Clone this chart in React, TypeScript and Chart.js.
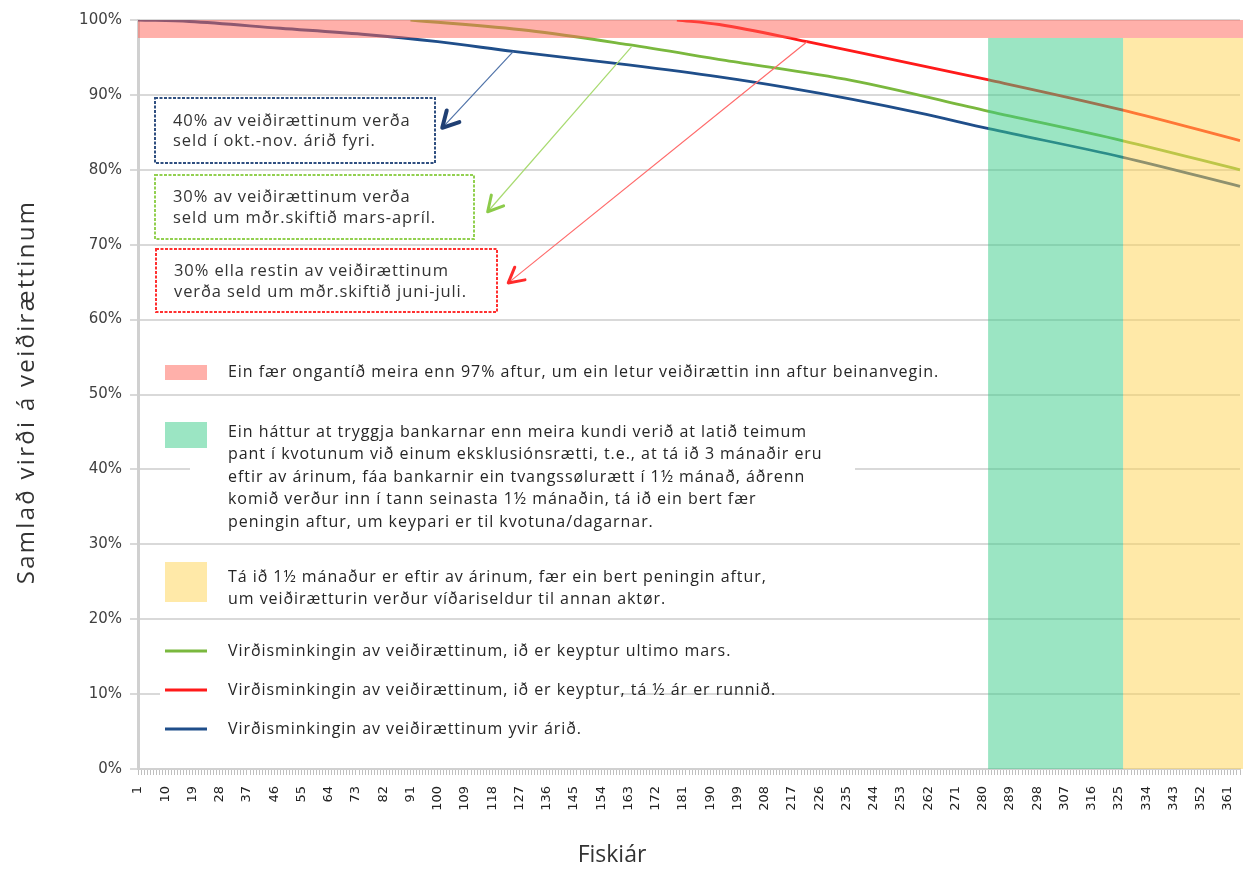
import { useEffect, useRef } from 'react';
import { Chart, registerables } from 'chart.js';

Chart.register(...registerables);

// ---------- data ----------
const DAYS: string[] = Array.from({ length: 365 }, (_, i) => String(i + 1));
const Y_TICKS_STEP = 10;

const BLUE_DAYS = [1, 18, 48, 75, 100, 125, 163, 193, 215, 237, 259, 282, 326, 365];
const BLUE_VALUES = [100, 99.8, 98.9, 98.1, 97.1, 95.8, 94.0, 92.4, 91.0, 89.4, 87.6, 85.5, 81.7, 77.8];

const GREEN_DAYS = [91, 130, 163, 195, 237, 282, 326, 365];
const GREEN_VALUES = [100, 98.6, 96.7, 94.6, 91.9, 87.8, 83.9, 80.0];

const RED_DAYS = [179, 193, 222, 248, 282, 326, 365];
const RED_VALUES = [100, 99.4, 97.1, 94.9, 92.0, 88.0, 83.9];

// band limits (days / percent)
const CAP_VALUE = 97.6;
const GREEN_BAND_DAYS = [281.8, 326.4];
const YELLOW_BAND_DAYS = [326.4, 365];

// annotation arrows: [fromDay, fromValue, toDay, toValue]
const ARROW_BLUE = [125, 95.8, 101.5, 85.6];
const ARROW_GREEN = [164, 96.4, 116.5, 74.4];
const ARROW_RED = [222, 97.1, 123.3, 64.9];

// texts
const SERIES_LABELS = [
  'Virðisminkingin av veiðirættinum, ið er keyptur ultimo mars.',
  'Virðisminkingin av veiðirættinum, ið er keyptur, tá ½ ár er runnið.',
  'Virðisminkingin av veiðirættinum yvir árið.',
];
const PINK_TEXT = ['Ein fær ongantíð meira enn 97% aftur, um ein letur veiðirættin inn aftur beinanvegin.'];
const GREEN_TEXT = [
  'Ein háttur at tryggja bankarnar enn meira kundi verið at latið teimum',
  'pant í kvotunum við einum eksklusiónsrætti, t.e., at tá ið 3 mánaðir eru',
  'eftir av árinum, fáa bankarnir ein tvangssølurætt í 1½ mánað, áðrenn',
  'komið verður inn í tann seinasta 1½ mánaðin, tá ið ein bert fær',
  'peningin aftur, um keypari er til kvotuna/dagarnar.',
];
const YELLOW_TEXT = [
  'Tá ið 1½ mánaður er eftir av árinum, fær ein bert peningin aftur,',
  'um veiðirætturin verður víðariseldur til annan aktør.',
];
const BOX_BLUE_TEXT = ['40% av veiðirættinum verða', 'seld í okt.-nov. árið fyri.'];
const BOX_GREEN_TEXT = ['30% av veiðirættinum verða', 'seld um mðr.skiftið mars-apríl.'];
const BOX_RED_TEXT = ['30% ella restin av veiðirættinum', 'verða seld um mðr.skiftið juni-juli.'];
const Y_TITLE = 'Samlað virði á veiðirættinum';
const X_TITLE = 'Fiskiár';

// ---------- styles ----------
const BLUE = '#1F4E8A';
const GREEN = '#7AB83E';
const RED = '#FF1A1A';
const PINK_FILL = 'rgba(255,97,85,0.5)';
const GREEN_FILL = 'rgba(55,203,135,0.5)';
const YELLOW_FILL = 'rgba(255,211,81,0.5)';
const PINK_SOLID = 'rgb(255,176,170)';
const GREEN_SOLID = 'rgb(155,229,195)';
const YELLOW_SOLID = 'rgb(255,233,168)';
const FONT = '"Open Sans", "DejaVu Sans", sans-serif';
const TEXT_COLOR = '#262626';

function toPoints(days: number[], values: number[]) {
  return days.map((d, i) => ({ x: String(d), y: values[i] }));
}

function drawArrow(ctx: CanvasRenderingContext2D, x0: number, y0: number, x1: number, y1: number, lineColor: string, headColor: string, headLen: number, headWidth: number) {
  ctx.save();
  ctx.strokeStyle = lineColor;
  ctx.lineWidth = 1.2;
  ctx.beginPath();
  ctx.moveTo(x0, y0);
  ctx.lineTo(x1, y1);
  ctx.stroke();
  const ang = Math.atan2(y1 - y0, x1 - x0);
  const spread = 0.5;
  ctx.strokeStyle = headColor;
  ctx.lineWidth = headWidth;
  ctx.lineCap = 'round';
  ctx.lineJoin = 'round';
  ctx.beginPath();
  ctx.moveTo(x1 - headLen * Math.cos(ang - spread), y1 - headLen * Math.sin(ang - spread));
  ctx.lineTo(x1, y1);
  ctx.lineTo(x1 - headLen * Math.cos(ang + spread), y1 - headLen * Math.sin(ang + spread));
  ctx.stroke();
  ctx.restore();
}

function setSpacing(ctx: CanvasRenderingContext2D, px: number) {
  (ctx as any).letterSpacing = `${px}px`;
}

function dottedBox(ctx: CanvasRenderingContext2D, x0: number, y0: number, x1: number, y1: number, color: string, lines: string[], textY: number[]) {
  ctx.save();
  ctx.fillStyle = '#ffffff';
  ctx.fillRect(x0, y0, x1 - x0, y1 - y0);
  ctx.strokeStyle = color;
  ctx.lineWidth = 2;
  ctx.setLineDash([3, 1.5]);
  ctx.strokeRect(x0, y0, x1 - x0, y1 - y0);
  ctx.setLineDash([]);
  ctx.fillStyle = '#333333';
  ctx.font = `16.5px ${FONT}`;
  setSpacing(ctx, 0.9);
  ctx.textBaseline = 'middle';
  ctx.textAlign = 'left';
  lines.forEach((t, i) => ctx.fillText(t, x0 + 18, textY[i]));
  ctx.restore();
}

const overlayPlugin = {
  id: 'overlay',
  afterDatasetsDraw(chart: any) {
    const { ctx, chartArea, scales } = chart;
    const x = scales.x;
    const y = scales.y;
    const yTop = y.getPixelForValue(100);
    const yCap = y.getPixelForValue(CAP_VALUE);
    const yBot = y.getPixelForValue(0);
    ctx.save();
    ctx.fillStyle = PINK_FILL;
    ctx.fillRect(chartArea.left, yTop, chart.width - chartArea.left, yCap - yTop);
    const g0 = x.getPixelForValue(GREEN_BAND_DAYS[0] - 1);
    const g1 = x.getPixelForValue(GREEN_BAND_DAYS[1] - 1);
    ctx.fillStyle = GREEN_FILL;
    ctx.fillRect(g0, yCap, g1 - g0, yBot - yCap);
    const y0 = x.getPixelForValue(YELLOW_BAND_DAYS[0] - 1);
    ctx.fillStyle = YELLOW_FILL;
    ctx.fillRect(y0, yCap, chart.width - y0, yBot - yCap);
    ctx.restore();
  },
  afterDraw(chart: any) {
    const { ctx, scales } = chart;
    const x = scales.x;
    const y = scales.y;
    const px = (d: number) => x.getPixelForValue(d - 1);
    const py = (v: number) => y.getPixelForValue(v);

    // arrows
    drawArrow(ctx, px(ARROW_BLUE[0]), py(ARROW_BLUE[1]), px(ARROW_BLUE[2]), py(ARROW_BLUE[3]), '#4F72A8', '#1F3F73', 18, 4);
    drawArrow(ctx, px(ARROW_GREEN[0]), py(ARROW_GREEN[1]), px(ARROW_GREEN[2]), py(ARROW_GREEN[3]), '#A8DA70', '#8CCB4A', 17, 3);
    drawArrow(ctx, px(ARROW_RED[0]), py(ARROW_RED[1]), px(ARROW_RED[2]), py(ARROW_RED[3]), '#FF6A6A', '#FF2A2A', 17, 3);

    // annotation boxes
    dottedBox(ctx, 155, 98, 435, 163, '#2F4F80', BOX_BLUE_TEXT, [121, 141]);
    dottedBox(ctx, 155, 175, 474, 239, '#92D050', BOX_GREEN_TEXT, [197, 218]);
    dottedBox(ctx, 156, 249, 497, 312, '#FF3030', BOX_RED_TEXT, [271, 292]);

    // legend
    ctx.save();
    ctx.font = `16px ${FONT}`;
    setSpacing(ctx, 0.95);
    ctx.textBaseline = 'middle';
    ctx.textAlign = 'left';
    const TX = 228;
    const MX = 165;
    const MW = 42;
    // white backgrounds hiding grid
    ctx.fillStyle = '#ffffff';
    ctx.fillRect(190, 418, 665, 114);
    ctx.fillRect(160, 678, 460, 25);

    ctx.fillStyle = PINK_SOLID;
    ctx.fillRect(MX, 365, MW, 15);
    ctx.fillStyle = GREEN_SOLID;
    ctx.fillRect(MX, 422, MW, 26);
    ctx.fillStyle = YELLOW_SOLID;
    ctx.fillRect(MX, 562, MW, 40);

    ctx.fillStyle = TEXT_COLOR;
    PINK_TEXT.forEach((t, i) => ctx.fillText(t, TX, 372 + i * 22.5));
    GREEN_TEXT.forEach((t, i) => ctx.fillText(t, TX, 432 + i * 22.5));
    YELLOW_TEXT.forEach((t, i) => ctx.fillText(t, TX, 577 + i * 22.5));

    const lineColors = [GREEN, RED, BLUE];
    const lineY = [651, 690, 729];
    lineColors.forEach((c, i) => {
      ctx.strokeStyle = c;
      ctx.lineWidth = 3;
      ctx.beginPath();
      ctx.moveTo(MX, lineY[i]);
      ctx.lineTo(MX + MW, lineY[i]);
      ctx.stroke();
      ctx.fillStyle = TEXT_COLOR;
      ctx.fillText(SERIES_LABELS[i], TX, lineY[i]);
    });
    ctx.restore();

    // axis titles
    ctx.save();
    ctx.fillStyle = '#333333';
    ctx.font = `23px ${FONT}`;
    ctx.textAlign = 'center';
    ctx.textBaseline = 'middle';
    ctx.fillText(X_TITLE, 612, 855);
    ctx.font = `24px ${FONT}`;
    setSpacing(ctx, 2.3);
    ctx.translate(27, 392);
    ctx.rotate(-Math.PI / 2);
    ctx.fillText(Y_TITLE, 0, 0);
    ctx.restore();
  },
};

export default function App() {
  const ref = useRef<HTMLCanvasElement | null>(null);
  useEffect(() => {
    if (!ref.current) return;
    const chart = new Chart(ref.current, {
      type: 'line',
      data: {
        labels: DAYS,
        datasets: [
          { label: SERIES_LABELS[0], data: toPoints(GREEN_DAYS, GREEN_VALUES) as any, borderColor: GREEN, borderWidth: 2.8, pointRadius: 0, cubicInterpolationMode: 'monotone' },
          { label: SERIES_LABELS[1], data: toPoints(RED_DAYS, RED_VALUES) as any, borderColor: RED, borderWidth: 2.8, pointRadius: 0, cubicInterpolationMode: 'monotone' },
          { label: SERIES_LABELS[2], data: toPoints(BLUE_DAYS, BLUE_VALUES) as any, borderColor: BLUE, borderWidth: 2.8, pointRadius: 0, cubicInterpolationMode: 'monotone' },
        ],
      },
      options: {
        animation: false,
        responsive: true,
        maintainAspectRatio: false,
        layout: { padding: { left: 0, top: 20, right: 3, bottom: 0 } },
        plugins: { legend: { display: false }, tooltip: { enabled: false }, title: { display: false } },
        scales: {
          x: {
            type: 'category',
            offset: false,
            grid: { display: true, drawOnChartArea: false, drawTicks: true, tickLength: 6, color: '#BFBFBF', lineWidth: 1 },
            border: { display: true, color: '#D0D0D0', width: 2 },
            ticks: {
              autoSkip: false,
              maxRotation: 90,
              minRotation: 90,
              padding: 11,
              color: '#222222',
              font: { family: '"DejaVu Sans", sans-serif', size: 13 },
              callback: (_v: any, index: number) => (index % 9 === 0 ? DAYS[index] : ''),
            },
            afterFit: (s: any) => { s.height = 100; s.paddingLeft = 0; s.paddingRight = 0; },
          },
          y: {
            min: 0,
            max: 100,
            grid: { color: '#D9D9D9', lineWidth: 2, tickLength: 8, drawTicks: true },
            border: { display: true, color: '#D0D0D0', width: 3 },
            ticks: {
              stepSize: Y_TICKS_STEP,
              padding: 8,
              color: '#404040',
              font: { family: '"DejaVu Sans", sans-serif', size: 15 },
              callback: (v: any) => `${v}%`,
            },
            afterFit: (s: any) => { s.width = 138; },
          },
        },
      },
      plugins: [overlayPlugin],
    });
    return () => chart.destroy();
  }, []);
  return (
    <div style={{ position: 'fixed', left: 0, top: 0, width: 1243, height: 869, background: '#ffffff' }}>
      <canvas ref={ref} />
    </div>
  );
}
